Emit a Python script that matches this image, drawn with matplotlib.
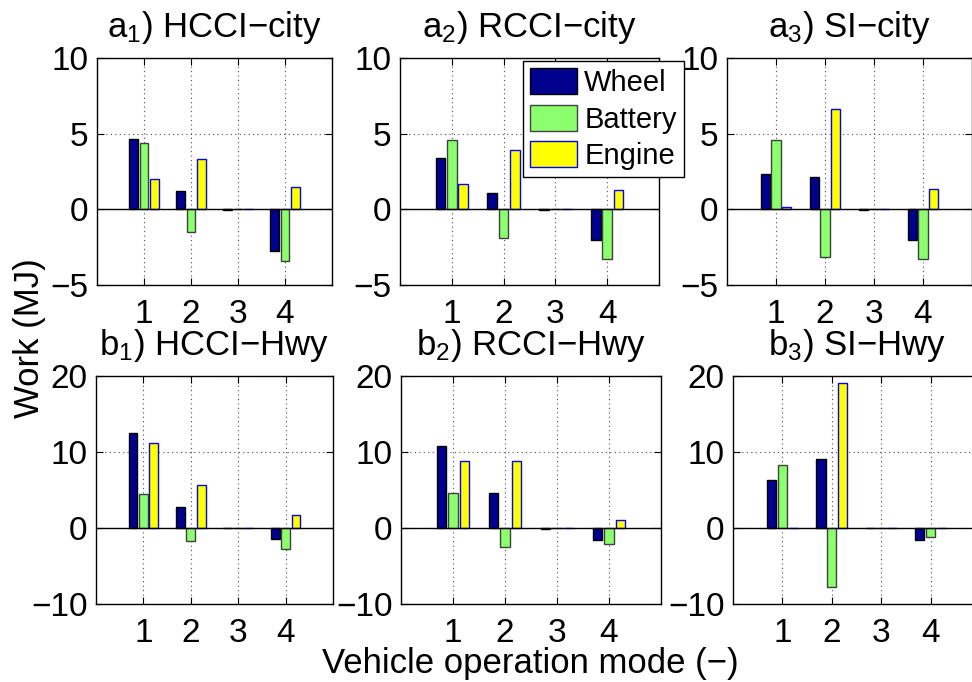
import matplotlib
matplotlib.use("Agg")
import matplotlib.pyplot as plt
import numpy as np

plt.rcParams['font.family'] = ['Liberation Sans', 'DejaVu Sans']
plt.rcParams['mathtext.fontset'] = 'custom'
plt.rcParams['mathtext.rm'] = 'Liberation Sans'
plt.rcParams['mathtext.it'] = 'Liberation Sans'

modes = [1, 2, 3, 4]
series = ['Wheel', 'Battery', 'Engine']

titles = [r'$\mathregular{a_1}$) HCCI−city', r'$\mathregular{a_2}$) RCCI−city', r'$\mathregular{a_3}$) SI−city',
          r'$\mathregular{b_1}$) HCCI−Hwy', r'$\mathregular{b_2}$) RCCI−Hwy', r'$\mathregular{b_3}$) SI−Hwy']

# values per panel: wheel, battery, engine for modes 1..4
a1_wheel = [4.65, 1.2, -0.05, -2.77]
a1_battery = [4.39, -1.48, 0.02, -3.4]
a1_engine = [2.03, 3.3, 0.0, 1.5]

a2_wheel = [3.36, 1.11, -0.05, -2.0]
a2_battery = [4.59, -1.92, 0.02, -3.28]
a2_engine = [1.68, 3.95, 0.0, 1.31]

a3_wheel = [2.36, 2.14, -0.05, -2.0]
a3_battery = [4.61, -3.14, 0.05, -3.25]
a3_engine = [0.15, 6.66, 0.0, 1.33]

b1_wheel = [12.46, 2.8, -0.05, -1.51]
b1_battery = [4.48, -1.72, 0.02, -2.8]
b1_engine = [11.12, 5.69, 0.05, 1.72]

b2_wheel = [10.79, 4.6, -0.1, -1.58]
b2_battery = [4.65, -2.5, 0.02, -2.1]
b2_engine = [8.77, 8.82, 0.02, 1.1]

b3_wheel = [6.29, 9.08, -0.05, -1.57]
b3_battery = [8.34, -7.73, 0.02, -1.18]
b3_engine = [0.02, 19.04, 0.02, 0.02]

panels = [
    (a1_wheel, a1_battery, a1_engine),
    (a2_wheel, a2_battery, a2_engine),
    (a3_wheel, a3_battery, a3_engine),
    (b1_wheel, b1_battery, b1_engine),
    (b2_wheel, b2_battery, b2_engine),
    (b3_wheel, b3_battery, b3_engine),
]

ylims = [(-5, 10)] * 3 + [(-10, 20)] * 3
yticks = [[-5, 0, 5, 10]] * 3 + [[-10, 0, 10, 20]] * 3

fill_colors = ['#00008F', '#8CFF6E', '#FFFF00']
edge_colors = ['#000000', '#404040', '#0000FF']

W, H = 972, 682
# (left, right, top, bottom) in pixels
boxes = [
    (97, 332, 58, 285),
    (400, 659, 58, 285),
    (727, 972, 58, 285),
    (96, 333, 376, 604),
    (401, 661, 376, 604),
    (733, 980, 376, 604),
]

fig = plt.figure(figsize=(W / 100, H / 100), dpi=100)

offsets = [-0.22, 0.0, 0.22]
bw = 0.185
x = np.array(modes, dtype=float)

axes = []
for i, (l, r, t, b) in enumerate(boxes):
    ax = fig.add_axes([l / W, 1 - b / H, (r - l) / W, (b - t) / H])
    axes.append(ax)
    for k in range(3):
        ax.bar(x + offsets[k], panels[i][k], width=bw, color=fill_colors[k],
               edgecolor=edge_colors[k], linewidth=1.0, label=series[k], zorder=3)
    ax.axhline(0, color='black', linewidth=1.0, zorder=4)
    ax.set_xlim(0, 5)
    ax.set_ylim(*ylims[i])
    ax.set_xticks(modes)
    ax.set_yticks(yticks[i])
    ax.grid(True, color='0.3', linestyle=(0, (1, 3)), linewidth=0.8, zorder=0)
    ax.tick_params(direction='in', top=True, right=True, length=5, width=0.8,
                   labelsize=24)
    ax.tick_params(axis='x', pad=10)
    ax.tick_params(axis='y', pad=6)
    for s in ax.spines.values():
        s.set_linewidth(1.0)
    ax.set_title(titles[i], fontsize=25, pad=15)

leg = axes[1].legend(loc='upper left', bbox_to_anchor=(523 / W, 1 - 61 / H),
                     bbox_transform=fig.transFigure, fontsize=21, frameon=True,
                     fancybox=False, framealpha=1, edgecolor='black',
                     handlelength=1.6, handleheight=1.0, labelspacing=0.25,
                     handletextpad=0.25, borderpad=0.25, borderaxespad=0)
leg.get_frame().set_linewidth(1.0)
leg.set_zorder(10)

fig.text(30 / W, 1 - 338 / H, 'Work (MJ)', rotation=90, ha='center', va='center', fontsize=25)
fig.text(530 / W, 1 - 664 / H, 'Vehicle operation mode (−)', ha='center', va='center', fontsize=25)

fig.savefig('out.png', dpi=100)
